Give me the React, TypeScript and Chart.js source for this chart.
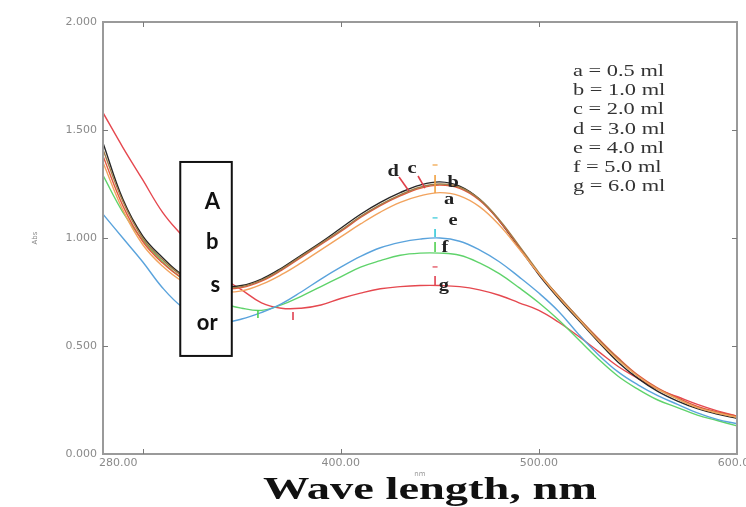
import React, { useEffect, useRef } from 'react';
import { Chart, registerables } from 'chart.js';

Chart.register(...registerables);

// ---------------- data ----------------
const wavelengths = [280, 290, 300, 310, 320, 330, 340, 350, 360, 370, 380, 390, 400, 410, 420, 430, 440, 450, 460, 470, 480, 490, 500, 510, 520, 530, 540, 550, 560, 570, 580, 590, 600];

const seriesA = [1.35, 1.13, 0.97, 0.87, 0.80, 0.765, 0.75, 0.755, 0.785, 0.83, 0.885, 0.945, 1.005, 1.065, 1.12, 1.165, 1.195, 1.21, 1.195, 1.145, 1.06, 0.95, 0.835, 0.725, 0.625, 0.525, 0.435, 0.36, 0.30, 0.255, 0.215, 0.19, 0.17];
const seriesB = [1.41, 1.17, 1.0, 0.90, 0.825, 0.785, 0.77, 0.775, 0.805, 0.855, 0.915, 0.975, 1.035, 1.10, 1.155, 1.20, 1.235, 1.25, 1.235, 1.18, 1.085, 0.965, 0.84, 0.73, 0.63, 0.53, 0.44, 0.36, 0.30, 0.255, 0.215, 0.19, 0.17];
const seriesC = [1.38, 1.15, 0.985, 0.885, 0.815, 0.78, 0.765, 0.77, 0.80, 0.85, 0.91, 0.97, 1.03, 1.095, 1.15, 1.195, 1.23, 1.245, 1.23, 1.175, 1.08, 0.96, 0.835, 0.73, 0.63, 0.535, 0.445, 0.365, 0.305, 0.26, 0.22, 0.195, 0.175];
const seriesD = [1.44, 1.18, 1.01, 0.91, 0.83, 0.79, 0.775, 0.78, 0.81, 0.86, 0.92, 0.98, 1.045, 1.11, 1.165, 1.21, 1.245, 1.26, 1.24, 1.18, 1.08, 0.955, 0.83, 0.72, 0.62, 0.52, 0.425, 0.35, 0.29, 0.245, 0.21, 0.185, 0.165];
const seriesE = [1.11, 1.0, 0.89, 0.77, 0.68, 0.63, 0.61, 0.625, 0.655, 0.695, 0.75, 0.81, 0.865, 0.915, 0.955, 0.98, 0.995, 1.0, 0.985, 0.945, 0.89, 0.82, 0.745, 0.66, 0.555, 0.46, 0.38, 0.32, 0.27, 0.23, 0.19, 0.16, 0.14];
const seriesF = [1.29, 1.12, 0.99, 0.89, 0.81, 0.75, 0.70, 0.675, 0.665, 0.69, 0.73, 0.775, 0.82, 0.865, 0.895, 0.92, 0.93, 0.93, 0.92, 0.885, 0.835, 0.77, 0.70, 0.62, 0.53, 0.44, 0.36, 0.30, 0.25, 0.215, 0.18, 0.155, 0.13];
const seriesG = [1.58, 1.42, 1.27, 1.12, 1.01, 0.91, 0.82, 0.76, 0.70, 0.675, 0.675, 0.69, 0.72, 0.745, 0.765, 0.775, 0.78, 0.78, 0.775, 0.76, 0.735, 0.70, 0.665, 0.61, 0.545, 0.475, 0.405, 0.35, 0.30, 0.265, 0.23, 0.20, 0.175];

const seriesNames = ['a', 'b', 'c', 'd', 'e', 'f', 'g'];
const seriesValues = [seriesA, seriesB, seriesC, seriesD, seriesE, seriesF, seriesG];
const legendLines = ['a = 0.5 ml', 'b = 1.0 ml', 'c = 2.0 ml', 'd = 3.0 ml', 'e = 4.0 ml', 'f = 5.0 ml', 'g = 6.0 ml'];

const xTickValues = [280, 400, 500, 600];
const xTickLabels = ['280.00', '400.00', '500.00', '600.00'];
const xMarkValues = [300, 400, 500];
const yMarkValues = [0.5, 1.0, 1.5];
const yAxisTitle = 'Abs';
const xUnitLabel = 'nm';
const xAxisTitle = 'Wave length, nm';
const boxLetters = ['A', 'b', 's', 'or'];

// ---------------- styles ----------------
const seriesColors = ['#f2a35e', '#a07c48', '#e2583e', '#262626', '#5aa3dc', '#5fd36b', '#e5484f'];
const axisGrey = '#9a9a9a';
const tickTextGrey = '#8a8a8a';

// annotation placement (in data units)
const curveLabelPos = [
  { t: 'd', x: 426.4, y: 1.306 },
  { t: 'c', x: 436.0, y: 1.319 },
  { t: 'b', x: 456.7, y: 1.255 },
  { t: 'a', x: 454.7, y: 1.176 },
  { t: 'e', x: 456.7, y: 1.079 },
  { t: 'f', x: 452.6, y: 0.954 },
  { t: 'g', x: 452.1, y: 0.778 },
];
const leaderLines = [
  { x1: 429.4, y1: 1.282, x2: 434.4, y2: 1.218 },
  { x1: 439.0, y1: 1.287, x2: 442.5, y2: 1.231 },
];
const peakMarks = [
  { x: 447.6, y1: 1.292, y2: 1.208, dash: 1.338, c: '#f0a040' },
  { x: 447.6, y1: 1.042, y2: 1.005, dash: 1.093, c: '#30c8d8' },
  { x: 447.6, y1: 0.981, y2: 0.935, dash: null, c: '#50d050' },
  { x: 447.6, y1: 0.824, y2: 0.782, dash: 0.866, c: '#e04050' },
  { x: 358.2, y1: 0.667, y2: 0.630, dash: null, c: '#50d050' },
  { x: 375.9, y1: 0.657, y2: 0.620, dash: null, c: '#e04050' },
];
const absBox = { x1: 319, x2: 345, y1: 1.352, y2: 0.454 };

function stretchText(ctx: CanvasRenderingContext2D, text: string, x: number, y: number, font: string, color: string, sx: number, align: CanvasTextAlign = 'left') {
  ctx.save();
  ctx.font = font;
  ctx.fillStyle = color;
  ctx.textAlign = align;
  ctx.textBaseline = 'middle';
  ctx.translate(x, y);
  ctx.scale(sx, 1);
  ctx.fillText(text, 0, 0);
  ctx.restore();
}

const overlayPlugin = {
  id: 'overlay',
  afterDatasetsDraw(chart: any) {
    const ctx: CanvasRenderingContext2D = chart.ctx;
    const area = chart.chartArea;
    const xs = chart.scales.x;
    const ys = chart.scales.y;
    const px = (v: number) => xs.getPixelForValue(v);
    const py = (v: number) => ys.getPixelForValue(v);

    ctx.save();
    // frame
    ctx.strokeStyle = axisGrey;
    ctx.lineWidth = 2;
    ctx.strokeRect(area.left, area.top, area.right - area.left, area.bottom - area.top);
    // inward tick marks
    ctx.lineWidth = 1;
    ctx.strokeStyle = '#7a7a7a';
    xMarkValues.forEach((v) => {
      const x = Math.round(px(v)) + 0.5;
      ctx.beginPath();
      ctx.moveTo(x, area.bottom); ctx.lineTo(x, area.bottom - 5);
      ctx.moveTo(x, area.top); ctx.lineTo(x, area.top + 5);
      ctx.stroke();
    });
    yMarkValues.forEach((v) => {
      const y = Math.round(py(v)) + 0.5;
      ctx.beginPath();
      ctx.moveTo(area.left, y); ctx.lineTo(area.left + 5, y);
      ctx.moveTo(area.right, y); ctx.lineTo(area.right - 5, y);
      ctx.stroke();
    });

    // x tick labels
    xTickValues.forEach((v, i) => {
      const x = px(v);
      const align: CanvasTextAlign = i === 0 ? 'left' : 'center';
      stretchText(ctx, xTickLabels[i], i === 0 ? x - 4 : x, area.bottom + 9, '11px "DejaVu Sans"', tickTextGrey, 1, align);
    });
    // unit label + axis titles
    stretchText(ctx, xUnitLabel, (area.left + area.right) / 2, area.bottom + 20, '7px "DejaVu Sans"', '#999', 1, 'center');
    ctx.save();
    ctx.translate(35, (area.top + area.bottom) / 2);
    ctx.rotate(-Math.PI / 2);
    ctx.font = '7px "DejaVu Sans"';
    ctx.fillStyle = '#888';
    ctx.textAlign = 'center';
    ctx.textBaseline = 'middle';
    ctx.fillText(yAxisTitle, 0, 0);
    ctx.restore();

    const titleFont = 'bold 32px "Liberation Serif"';
    ctx.font = titleFont;
    const tw = ctx.measureText(xAxisTitle).width;
    stretchText(ctx, xAxisTitle, 430, 491, titleFont, '#111', 334 / tw, 'center');

    // legend text
    legendLines.forEach((t, i) => {
      stretchText(ctx, t, 573, 72 + i * 19.1, '16px "Liberation Serif"', '#333', 1.4, 'left');
    });

    // curve labels
    leaderLines.forEach((l) => {
      ctx.strokeStyle = '#e0404a';
      ctx.lineWidth = 1.6;
      ctx.beginPath();
      ctx.moveTo(px(l.x1), py(l.y1));
      ctx.lineTo(px(l.x2), py(l.y2));
      ctx.stroke();
    });
    peakMarks.forEach((m) => {
      ctx.strokeStyle = m.c;
      ctx.lineWidth = 1.6;
      ctx.beginPath();
      ctx.moveTo(px(m.x), py(m.y1));
      ctx.lineTo(px(m.x), py(m.y2));
      ctx.stroke();
      if (m.dash !== null) {
        ctx.lineWidth = 1.2;
        ctx.beginPath();
        ctx.moveTo(px(m.x) - 2.5, py(m.dash));
        ctx.lineTo(px(m.x) + 2.5, py(m.dash));
        ctx.stroke();
      }
    });
    curveLabelPos.forEach((l) => {
      stretchText(ctx, l.t, px(l.x), py(l.y), 'bold 17px "Liberation Serif"', '#222', 1.2, 'center');
    });

    // Abs box
    const bx1 = px(absBox.x1), bx2 = px(absBox.x2), by1 = py(absBox.y1), by2 = py(absBox.y2);
    ctx.fillStyle = '#fff';
    ctx.fillRect(bx1, by1, bx2 - bx1, by2 - by1);
    ctx.strokeStyle = '#111';
    ctx.lineWidth = 2;
    ctx.strokeRect(bx1, by1, bx2 - bx1, by2 - by1);
    const letterOffsets = [[32, 40], [32, 80], [35, 123], [27, 161]];
    boxLetters.forEach((t, i) => {
      stretchText(ctx, t, bx1 + letterOffsets[i][0], by1 + letterOffsets[i][1], 'bold 22px Lato', '#111', 1, 'center');
    });
    ctx.restore();
  },
};

export default function App() {
  const ref = useRef<HTMLCanvasElement | null>(null);
  useEffect(() => {
    const canvas = ref.current;
    if (!canvas) return;
    const chart = new Chart(canvas, {
      type: 'line',
      data: {
        datasets: seriesValues.map((vals, i) => ({
          label: seriesNames[i],
          data: wavelengths.map((w, j) => ({ x: w, y: vals[j] })),
          borderColor: seriesColors[i],
          backgroundColor: seriesColors[i],
          borderWidth: 1.4,
          pointRadius: 0,
          tension: 0.4,
          fill: false,
        })),
      },
      options: {
        responsive: false,
        animation: false,
        devicePixelRatio: 1,
        layout: { padding: { top: 22, right: 9, left: 0, bottom: 0 } },
        plugins: { legend: { display: false }, tooltip: { enabled: false }, title: { display: false } },
        scales: {
          x: {
            type: 'linear',
            min: 280,
            max: 600,
            grid: { display: false, drawTicks: false },
            border: { display: false },
            ticks: { display: false },
            afterFit: (s: any) => { s.height = 53; },
          },
          y: {
            type: 'linear',
            min: 0,
            max: 2,
            grid: { display: false, drawTicks: false },
            border: { display: false },
            ticks: {
              stepSize: 0.5,
              padding: 6,
              color: tickTextGrey,
              font: { family: 'DejaVu Sans', size: 11 },
              callback: (v: any) => Number(v).toFixed(3),
            },
            afterFit: (s: any) => { s.width = 103; },
          },
        },
      } as any,
      plugins: [overlayPlugin],
    });
    return () => chart.destroy();
  }, []);
  return (
    <div style={{ position: 'fixed', left: 0, top: 0, width: 746, height: 507, background: '#fff' }}>
      <canvas ref={ref} width={746} height={507} style={{ display: 'block' }} />
    </div>
  );
}
